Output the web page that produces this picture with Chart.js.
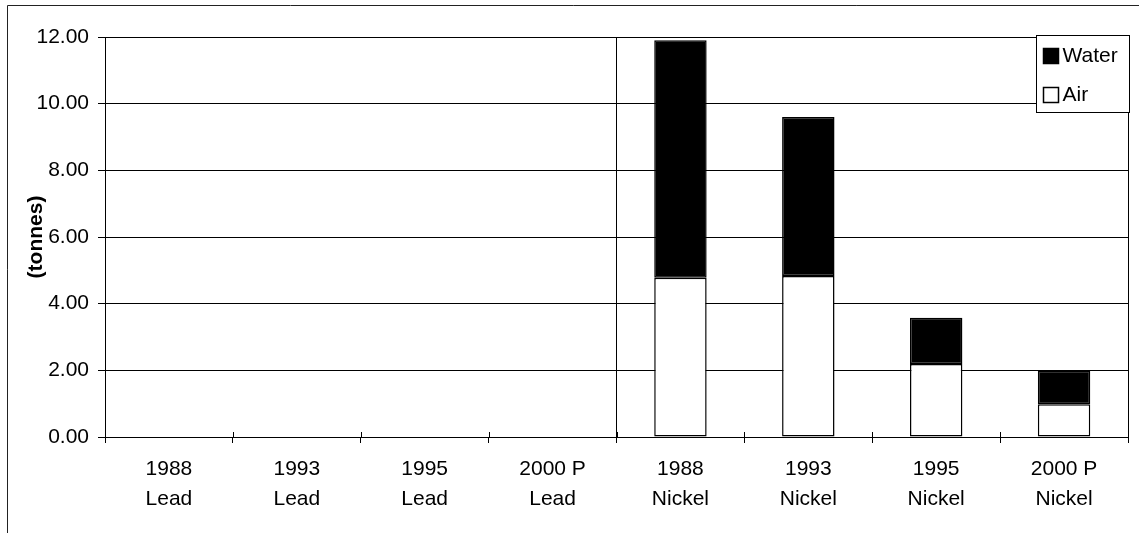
<!DOCTYPE html>
<html>
<head>
<meta charset="utf-8">
<script src="https://cdn.jsdelivr.net/npm/chart.js@4/dist/chart.umd.min.js"></script>
<style>
  html, body { margin: 0; padding: 0; background: #fff; }
  #wrap { width: 1139px; height: 533px; }
</style>
</head>
<body>
<div id="wrap"><canvas id="c" width="1139" height="533"></canvas></div>
<script>
// Emissions by year and metal, in tonnes
const years = ['1988', '1993', '1995', '2000 P', '1988', '1993', '1995', '2000 P'];
const metals = ['Lead', 'Lead', 'Lead', 'Lead', 'Nickel', 'Nickel', 'Nickel', 'Nickel'];
const airTonnes = [0, 0, 0, 0, 4.78, 4.83, 2.19, 0.98];
const waterTonnes = [0, 0, 0, 0, 7.12, 4.77, 1.39, 1.01];
const yTicks = { min: 0, max: 12, step: 2 };

const FONT = '"Liberation Sans", Arial, sans-serif';

// Outer frame around the chart
const framePlugin = {
  id: 'frame',
  beforeDraw(chart) {
    const ctx = chart.ctx;
    ctx.save();
    ctx.fillStyle = '#fff';
    ctx.fillRect(0, 0, chart.width, chart.height);
    ctx.strokeStyle = '#222';
    ctx.lineWidth = 1;
    ctx.beginPath();
    ctx.moveTo(7.5, chart.height);
    ctx.lineTo(7.5, 5.5);
    ctx.lineTo(chart.width, 5.5);
    ctx.stroke();
    ctx.restore();
  }
};

// Right border of the plot, cross tick marks on the category axis, boxed legend
const decorPlugin = {
  id: 'decor',
  afterDraw(chart) {
    const ctx = chart.ctx;
    const area = chart.chartArea;
    const xs = chart.scales.x;
    const n = chart.data.labels.length;
    ctx.save();
    ctx.strokeStyle = '#000';
    ctx.lineWidth = 1;
    ctx.beginPath();
    ctx.moveTo(Math.round(area.right) + 0.5, area.top);
    ctx.lineTo(Math.round(area.right) + 0.5, area.bottom);
    for (let i = 0; i <= n; i++) {
      const x = Math.round(xs.left + i * xs.width / n) + 0.5;
      ctx.moveTo(x, area.bottom - 5);
      ctx.lineTo(x, area.bottom);
    }
    ctx.stroke();

    // legend box
    const bx = Math.round(area.right) - 92 + 0.5, by = 35.5, bw = 93, bh = 77;
    ctx.fillStyle = '#fff';
    ctx.fillRect(bx, by, bw, bh);
    ctx.strokeRect(bx, by, bw, bh);
    const items = chart.data.datasets.slice().reverse();
    ctx.font = '21px ' + FONT;
    ctx.textBaseline = 'middle';
    items.forEach((ds, i) => {
      const cy = by + 20 + i * 39;
      ctx.fillStyle = ds.backgroundColor;
      ctx.fillRect(bx + 7, cy - 7, 15, 15);
      ctx.strokeStyle = '#000';
      ctx.lineWidth = 1.5;
      ctx.strokeRect(bx + 7, cy - 7, 15, 15);
      ctx.fillStyle = '#000';
      ctx.fillText(ds.label, bx + 26, cy + 1);
    });
    ctx.restore();
  }
};

new Chart(document.getElementById('c'), {
  type: 'bar',
  data: {
    labels: years.map((y, i) => [y, metals[i]]),
    datasets: [
      {
        label: 'Air',
        data: airTonnes,
        backgroundColor: '#fff',
        borderColor: '#000',
        borderWidth: 1.5,
        borderSkipped: false
      },
      {
        label: 'Water',
        data: waterTonnes,
        backgroundColor: '#000',
        borderColor: '#000',
        borderWidth: 1.5,
        borderSkipped: false
      }
    ]
  },
  options: {
    responsive: false,
    animation: false,
    devicePixelRatio: 1,
    layout: { padding: { left: 0, top: 37, right: 11, bottom: 0 } },
    datasets: { bar: { categoryPercentage: 1, barPercentage: 0.41 } },
    plugins: {
      legend: { display: false },
      tooltip: { enabled: false }
    },
    scales: {
      x: {
        stacked: true,
        grid: {
          offset: true,
          color: (c) => (c.index === 4 ? '#000' : 'rgba(0,0,0,0)'),
          tickColor: '#000',
          tickLength: 6,
          lineWidth: 1
        },
        border: { display: true, color: '#000', width: 1 },
        ticks: {
          color: '#000',
          font: { family: FONT, size: 21, lineHeight: 1.4 },
          padding: 12,
          maxRotation: 0,
          autoSkip: false
        },
        afterFit(scale) { scale.height = 96; }
      },
      y: {
        stacked: true,
        min: yTicks.min,
        max: yTicks.max,
        grid: { color: '#000', tickColor: '#000', tickLength: 7, lineWidth: 1 },
        border: { display: true, color: '#000', width: 1 },
        ticks: {
          stepSize: yTicks.step,
          color: '#000',
          padding: 9,
          font: { family: FONT, size: 21 },
          callback: (v) => Number(v).toFixed(2)
        },
        title: {
          display: true,
          text: '(tonnes)',
          color: '#000',
          font: { family: FONT, size: 21, weight: 'bold' },
          padding: { top: 24, bottom: 0 }
        },
        afterFit(scale) { scale.width = 105; }
      }
    }
  },
  plugins: [framePlugin, decorPlugin]
});
</script>
</body>
</html>
